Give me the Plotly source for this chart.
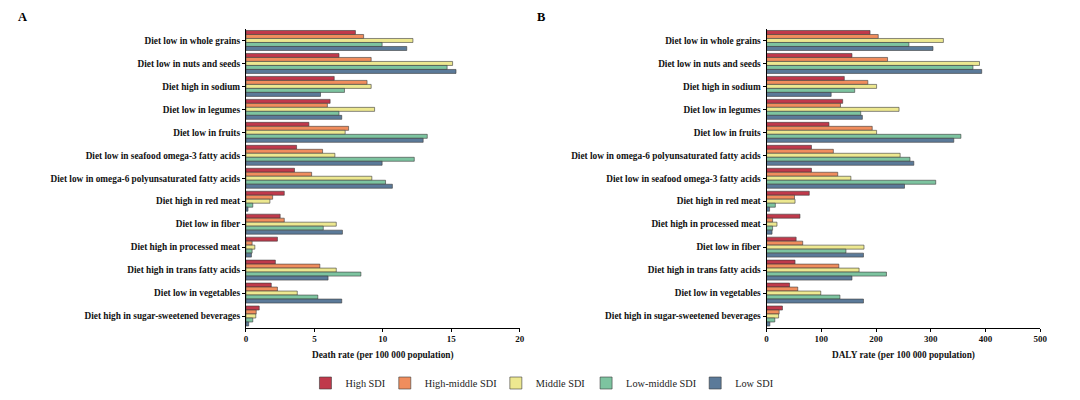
import plotly.graph_objects as go
from plotly.subplots import make_subplots

# categories (top to bottom) for each panel
death_causes = [
    "Diet low in whole grains", "Diet low in nuts and seeds", "Diet high in sodium",
    "Diet low in legumes", "Diet low in fruits", "Diet low in seafood omega-3 fatty acids",
    "Diet low in omega-6 polyunsaturated fatty acids", "Diet high in red meat",
    "Diet low in fiber", "Diet high in processed meat", "Diet high in trans fatty acids",
    "Diet low in vegetables", "Diet high in sugar-sweetened beverages",
]
daly_causes = [
    "Diet low in whole grains", "Diet low in nuts and seeds", "Diet high in sodium",
    "Diet low in legumes", "Diet low in fruits", "Diet low in omega-6 polyunsaturated fatty acids",
    "Diet low in seafood omega-3 fatty acids", "Diet high in red meat",
    "Diet high in processed meat", "Diet low in fiber", "Diet high in trans fatty acids",
    "Diet low in vegetables", "Diet high in sugar-sweetened beverages",
]

sdi_groups = ["High SDI", "High-middle SDI", "Middle SDI", "Low-middle SDI", "Low SDI"]
sdi_colors = ["#C0394B", "#F08D5D", "#EDE890", "#7DC4A0", "#5B7A99"]

# death rate per 100 000, one list per SDI group (order = death_causes)
death_high = [8.0, 6.8, 6.45, 6.15, 4.6, 3.7, 3.55, 2.8, 2.5, 2.3, 2.15, 1.85, 0.97]
death_high_middle = [8.6, 9.15, 8.85, 5.95, 7.5, 5.6, 4.8, 1.95, 2.8, 0.45, 5.4, 2.3, 0.75]
death_middle = [12.2, 15.1, 9.15, 9.4, 7.25, 6.5, 9.2, 1.75, 6.6, 0.65, 6.6, 3.75, 0.72]
death_low_middle = [9.95, 14.7, 7.2, 6.8, 13.25, 12.3, 10.2, 0.5, 5.65, 0.45, 8.4, 5.25, 0.5]
death_low = [11.75, 15.35, 5.45, 7.0, 12.95, 9.95, 10.7, 0.15, 7.05, 0.4, 6.0, 7.0, 0.2]

# DALY rate per 100 000 (order = daly_causes)
daly_high = [189, 156, 142, 139, 114, 82, 82, 78, 61, 54, 52, 42, 29]
daly_high_middle = [204, 221, 185, 135, 193, 122, 130, 51, 11, 66, 132, 57, 23]
daly_middle = [323, 389, 201, 242, 201, 244, 154, 52, 19, 178, 169, 99, 22]
daly_low_middle = [260, 377, 161, 172, 355, 262, 309, 16, 11, 145, 219, 134, 15]
daly_low = [304, 393, 118, 175, 342, 269, 252, 5.5, 10, 177, 156, 177, 6]

death_series = [death_high, death_high_middle, death_middle, death_low_middle, death_low]
daly_series = [daly_high, daly_high_middle, daly_middle, daly_low_middle, daly_low]

FONT = "Liberation Serif"
W, H = 1080, 400

# left edge (px) of each legend entry, one small legend per SDI group
legend_left_px = [306, 386, 498, 589, 699]


def px_x(p):
    return p / W


def px_y(p):
    return 1 - p / H


fig = make_subplots(rows=1, cols=2)

legend_ids = ["legend"] + ["legend%d" % (i + 2) for i in range(len(sdi_groups) - 1)]

for name, color, dv, yv, lid in zip(sdi_groups, sdi_colors, death_series, daly_series, legend_ids):
    fig.add_trace(go.Bar(
        x=dv, y=death_causes, orientation="h", name=name,
        marker=dict(color=color, line=dict(color="#3a3a3a", width=0.6)),
        legendgroup=name, showlegend=True, legend=lid,
    ), row=1, col=1)
    fig.add_trace(go.Bar(
        x=yv, y=daly_causes, orientation="h", name=name,
        marker=dict(color=color, line=dict(color="#3a3a3a", width=0.6)),
        legendgroup=name, showlegend=False, legend=lid,
    ), row=1, col=2)

tick_font = dict(family=FONT, size=9.3, color="#111111", weight="bold")
title_font = dict(family=FONT, size=9.3, color="#111111")
common = dict(
    showline=True, linecolor="black", linewidth=1, ticks="outside", ticklen=3,
    tickcolor="black", showgrid=False, zeroline=False, tickfont=tick_font,
)

fig.update_xaxes(common)
fig.update_yaxes(common, autorange="reversed")
fig.update_xaxes(tickfont=dict(size=9), row=1)
fig.update_xaxes(range=[0, 20], tickvals=[0, 5, 10, 15, 20], domain=[px_x(246), px_x(522)],
                 title=dict(text="<b>Death rate (per 100 000 population)</b>", font=title_font, standoff=8),
                 row=1, col=1)
fig.update_xaxes(range=[0, 500], tickvals=[0, 100, 200, 300, 400, 500],
                 domain=[px_x(771), px_x(1047)],
                 title=dict(text="<b>DALY rate (per 100 000 population)</b>", font=title_font, standoff=8),
                 row=1, col=2)
fig.update_yaxes(domain=[px_y(327.5), px_y(29)])

legend_style = dict(orientation="h", xanchor="left", y=px_y(383), yanchor="middle",
                    font=dict(family=FONT, size=10.3, color="#222222"), itemwidth=30,
                    bgcolor="rgba(0,0,0,0)")
legends = {lid: dict(legend_style, x=px_x(xl)) for lid, xl in zip(legend_ids, legend_left_px)}

fig.update_layout(
    barmode="group", bargap=0.13, bargroupgap=0,
    width=W, height=H,
    margin=dict(l=0, r=0, t=0, b=0),
    paper_bgcolor="white", plot_bgcolor="white",
    font=dict(family=FONT, size=9, color="#111111"),
    annotations=[
        dict(text="<b>A</b>", x=px_x(21), y=px_y(17), xref="paper", yref="paper",
             xanchor="center", yanchor="middle",
             showarrow=False, font=dict(family=FONT, size=12.5, color="black")),
        dict(text="<b>B</b>", x=px_x(544), y=px_y(17), xref="paper", yref="paper",
             xanchor="center", yanchor="middle",
             showarrow=False, font=dict(family=FONT, size=12.5, color="black")),
    ],
    **legends,
)

# drop the default page margin so the figure sits at the window origin
fig.write_html("out.html", config={"displayModeBar": False},
               post_script="document.body.style.margin = '0';")
